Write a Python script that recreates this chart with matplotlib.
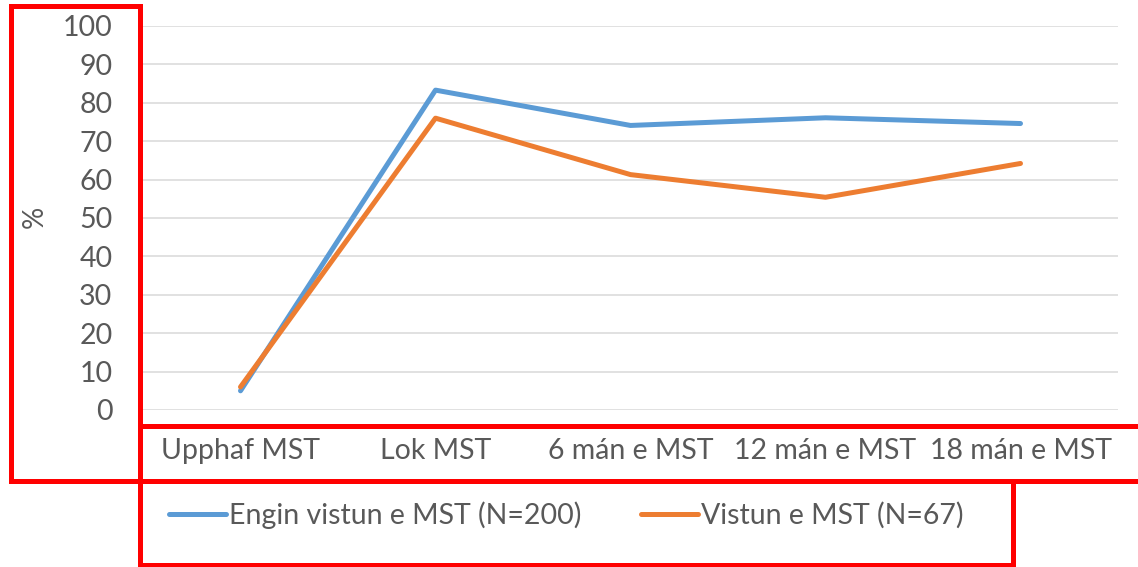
import matplotlib
matplotlib.use("Agg")
import matplotlib.pyplot as plt
from matplotlib.patches import Rectangle

categories = ["Upphaf MST", "Lok MST", "6 mán e MST", "12 mán e MST", "18 mán e MST"]
engin_vistun = [5.0, 83.3, 74.1, 76.1, 74.6]
vistun = [6.0, 76.0, 61.3, 55.4, 64.2]
series_labels = ["Engin vistun e MST (N=200)", "Vistun e MST (N=67)"]
yticks = [0, 10, 20, 30, 40, 50, 60, 70, 80, 90, 100]

W, H = 1138, 567
plt.rcParams['font.family'] = ['Lato', 'DejaVu Sans']
fig = plt.figure(figsize=(W / 100, H / 100), dpi=100)

def fx(px):
    return px / W

def fy(py):
    return 1 - py / H

left, right, top, bottom = 143, 1118, 26, 410
ax = fig.add_axes([fx(left), fy(bottom), fx(right) - fx(left), fy(top) - fy(bottom)])

x = list(range(len(categories)))
blue = "#5B9BD5"
orange = "#ED7D31"
l1, = ax.plot(x, engin_vistun, color=blue, lw=3.6, solid_capstyle='round', solid_joinstyle='round', zorder=3)
l2, = ax.plot(x, vistun, color=orange, lw=3.6, solid_capstyle='round', solid_joinstyle='round', zorder=3)

ax.set_xlim(-0.5, len(categories) - 0.5)
ax.set_ylim(0, 100)
ax.set_yticks(yticks)
ax.set_xticks(x)
ax.set_xticklabels(categories)
for s in ax.spines.values():
    s.set_visible(False)
ax.grid(axis='y', color='#D9D9D9', lw=1.1)
ax.set_axisbelow(True)
ax.tick_params(axis='both', length=0, labelsize=20.5, labelcolor='#595959')
ax.tick_params(axis='y', pad=22)
ax.tick_params(axis='x', pad=20)
ax.set_ylabel('%', fontsize=20, color='#595959')
ax.yaxis.set_label_coords((48 - left) / (right - left), (410 - 217) / (bottom - top))

fig.legend([l1, l2], series_labels, loc='center', ncol=2,
           bbox_to_anchor=(fx(566), fy(515)), frameon=False, fontsize=20.5,
           labelcolor='#595959', handlelength=2.0, handletextpad=0.1, columnspacing=2.1)

red = '#FF0000'
lw = 3.6
def rect(x0, y0, x1, y1):
    fig.patches.append(Rectangle((fx(x0), fy(y1)), fx(x1) - fx(x0), fy(y0) - fy(y1),
                                 transform=fig.transFigure, fill=False, ec=red, lw=lw,
                                 joinstyle='miter', zorder=10))

rect(10.5, 5.5, 139.5, 480.5)
rect(139.5, 426, 1145, 480.5)
rect(139.5, 480.5, 1013, 564.5)

fig.savefig('out.png', dpi=100)
